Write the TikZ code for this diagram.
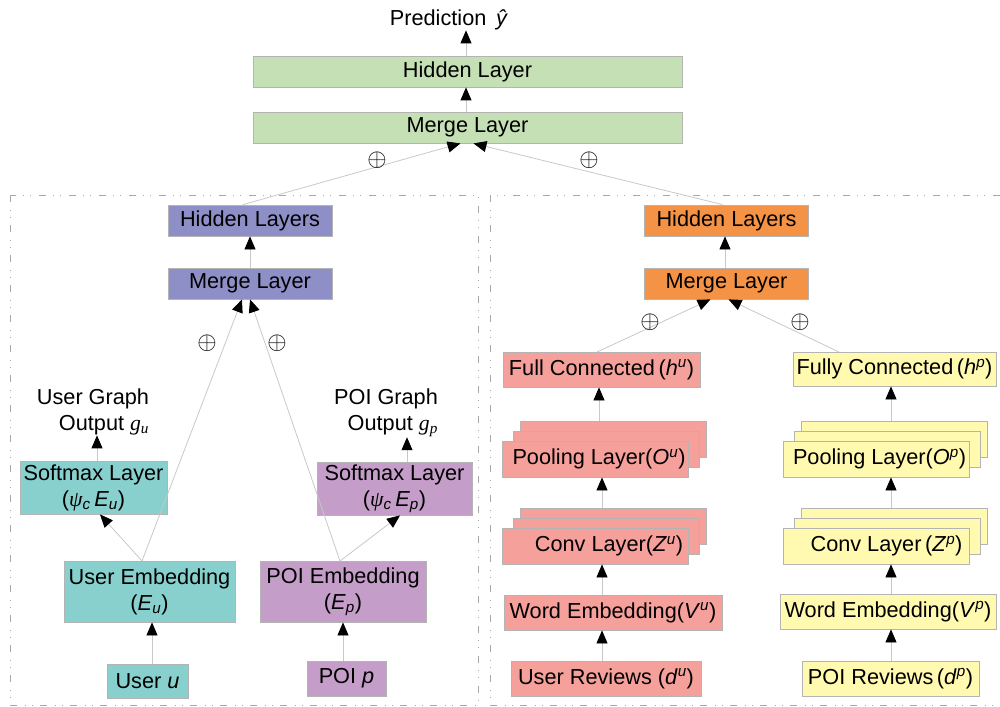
\documentclass[tikz,border=0pt]{standalone}
\usepackage{fontspec}
\setmainfont{Liberation Sans}
\newfontfamily\seriff{Liberation Serif}
\usetikzlibrary{arrows.meta}
\definecolor{cgreen}{HTML}{C5E0B4}
\definecolor{cblue}{HTML}{8E8FC6}
\definecolor{cteal}{HTML}{87D0CD}
\definecolor{cpink}{HTML}{C49DC8}
\definecolor{corange}{HTML}{F49346}
\definecolor{csalmon}{HTML}{F5A09B}
\definecolor{cyellow}{HTML}{FFFAB0}
\definecolor{bordergray}{HTML}{B4B4B4}
\definecolor{linegray}{HTML}{C8C8C8}
\definecolor{panelgray}{HTML}{A8A8A8}
\newcommand\sups[1]{\textsuperscript{\itshape #1}}
\newcommand\subs[1]{\textsubscript{\itshape #1}}
\newcommand\psic{{\seriff\itshape ψ}\subs{c}}
\begin{document}
\begin{tikzpicture}[x=1pt,y=-1pt,
  font=\fontsize{21.7}{26}\selectfont,
  box/.style={draw=bordergray, line width=0.8pt, inner sep=0pt, align=center},
  wide/.style={minimum width=429pt, minimum height=31pt},
  mid/.style={minimum width=164pt, minimum height=31pt},
  layer/.style={minimum width=186pt, minimum height=36pt},
  arr/.style={draw=linegray, line width=0.8pt, -{Triangle[length=13pt,width=11pt,color=black]}},
  panel/.style={draw=panelgray, line width=1pt, dash pattern=on 7pt off 8pt on 1pt off 6pt on 1pt off 7pt},
  lbl/.style={inner sep=0pt, align=right},
  oplus/.style={inner sep=0pt, font=\fontsize{27}{30}\selectfont}]
\useasboundingbox (0,0) rectangle (1000,706);

% panels
\draw[panel] (10,195) rectangle (478,705);
\draw[panel] (1000,195) -- (490,195) -- (490,705) -- (1000,705);

% top
\node[inner sep=0pt] (pred) at (449,20) {Prediction\hspace{0.45em}\textit{ŷ}};
\node[box, fill=cgreen, wide] (gHid) at (467.5,71.5) {Hidden Layer};
\node[box, fill=cgreen, wide] (gMer) at (467.5,127.5) {Merge Layer};
\coordinate (gx) at (466,0);
\draw[arr] (gHid.north -| gx) -- (pred.south -| gx);
\draw[arr] (gMer.north -| gx) -- (gHid.south -| gx);

% left panel
\node[box, fill=cblue, mid] (lHid) at (250,220.5) {Hidden Layers};
\node[box, fill=cblue, mid] (lMer) at (250,283.5) {Merge Layer};
\draw[arr] (lMer.north) -- (lHid.south);

\node[box, fill=cteal, minimum width=147pt, minimum height=53pt] (uSoft) at (93.5,487.5) {Softmax Layer\\(\psic\,\textit{E}\subs{u})};
\node[box, fill=cteal, minimum width=171pt, minimum height=61pt] (uEmb) at (149.5,591.5) {User Embedding\\(\textit{E}\subs{u})};
\node[box, fill=cteal, minimum width=81pt, minimum height=34pt] (uIn) at (147.5,681) {User \textit{u}};
\node[lbl] (uOut) at (93,412) {User Graph\\Output {\seriff\itshape g\textsubscript{u}}};

\node[box, fill=cpink, minimum width=155pt, minimum height=53pt] (pSoft) at (394.5,488.5) {Softmax Layer\\(\psic\,\textit{E}\subs{p})};
\node[box, fill=cpink, minimum width=166pt, minimum height=61pt] (pEmb) at (343,591.5) {POI Embedding\\(\textit{E}\subs{p})};
\node[box, fill=cpink, minimum width=79pt, minimum height=35pt] (pIn) at (346.5,678.5) {POI \textit{p}};
\node[lbl] (pOut) at (386,413) {POI Graph\\Output {\seriff\itshape g\textsubscript{p}}};

\coordinate (ux) at (152,0);
\coordinate (px) at (343,0);
\coordinate (usx) at (97,0);
\coordinate (psx) at (407,0);
\coordinate (ueTop) at (142,561);
\coordinate (peTop) at (340,561);
\draw[arr] (uIn.north -| ux) -- (uEmb.south -| ux);
\draw[arr] (pIn.north -| px) -- (pEmb.south -| px);
\draw[arr] (ueTop) -- (uSoft.south -| 100,0);
\draw[arr] (peTop) -- (pSoft.south -| 400,0);
\draw[arr] (uSoft.north -| usx) -- (usx |- uOut.south);
\draw[arr] (pSoft.north -| psx) -- (psx |- pOut.south);
\draw[arr] (ueTop) -- ([xshift=-8pt]lMer.south);
\draw[arr] (peTop) -- ([xshift=0pt]lMer.south);
\node[oplus] (op1) at (207,343) {$\oplus$};
\node[oplus] (op2) at (277,343) {$\oplus$};

% right panel
\node[box, fill=corange, mid] (rHid) at (726.5,220.5) {Hidden Layers};
\node[box, fill=corange, mid] (rMer) at (726.5,283.5) {Merge Layer};
\draw[arr] (rMer.north -| 725,0) -- (rHid.south -| 725,0);

\node[box, fill=csalmon, minimum width=197pt, minimum height=35pt] (uFC) at (601.5,369.5) {Full Connected\,(\textit{h}\sups{u})};
\node[box, fill=csalmon, layer] (uPool3) at (613,439) {};
\node[box, fill=csalmon, layer] (uPool2) at (606,449) {};
\node[box, fill=csalmon, layer] (uPool) at (595,459) {\hspace*{8pt}Pooling Layer(\textit{O}\sups{u})};
\node[box, fill=csalmon, layer] (uConv3) at (613,526) {};
\node[box, fill=csalmon, layer] (uConv2) at (606,536) {};
\node[box, fill=csalmon, layer] (uConv) at (595,546) {\hspace*{28pt}Conv Layer(\textit{Z}\sups{u})};
\node[box, fill=csalmon, minimum width=218pt, minimum height=35pt] (uWord) at (613,612.5) {Word Embedding(\textit{V}\sups{u})};
\node[box, fill=csalmon, minimum width=190pt, minimum height=35pt] (uRev) at (606,678.5) {User Reviews (\textit{d}\sups{u})};

\node[box, fill=cyellow, minimum width=203pt, minimum height=34pt] (pFC) at (894.5,369) {Fully Connected\,(\textit{h}\sups{p})};
\node[box, fill=cyellow, layer] (pPool3) at (894.5,439) {};
\node[box, fill=cyellow, layer] (pPool2) at (887.5,449) {};
\node[box, fill=cyellow, layer] (pPool) at (876.5,459) {\hspace*{6pt}Pooling Layer(\textit{O}\sups{p})};
\node[box, fill=cyellow, layer] (pConv3) at (894.5,526) {};
\node[box, fill=cyellow, layer] (pConv2) at (887.5,536) {};
\node[box, fill=cyellow, layer] (pConv) at (876.5,546) {\hspace*{20pt}Conv Layer\,(\textit{Z}\sups{p})};
\node[box, fill=cyellow, minimum width=216pt, minimum height=35pt] (pWord) at (888,611.5) {Word Embedding(\textit{V}\sups{p})};
\node[box, fill=cyellow, minimum width=177pt, minimum height=35pt] (pRev) at (890.5,678.5) {POI Reviews\,(\textit{d}\sups{p})};

\coordinate (rux) at (602,0);
\coordinate (rpx) at (891,0);
\draw[arr] (uRev.north -| rux) -- (uWord.south -| rux);
\draw[arr] (uWord.north -| rux) -- (uConv.south -| rux);
\draw[arr] (uConv3.north -| rux) -- (uPool.south -| rux);
\draw[arr] (uPool3.north -| 599,0) -- (uFC.south -| 599,0);
\draw[arr] (pRev.north -| rpx) -- (pWord.south -| rpx);
\draw[arr] (pWord.north -| rpx) -- (pConv.south -| rpx);
\draw[arr] (pConv3.north -| rpx) -- (pPool.south -| rpx);
\draw[arr] (pPool3.north -| rpx) -- (pFC.south -| rpx);

\coordinate (ufcTop) at (597,352);
\coordinate (pfcTop) at (839,352);
\draw[arr] (ufcTop) -- ([xshift=-16pt]rMer.south);
\draw[arr] (pfcTop) -- ([xshift=2pt]rMer.south);
\node[oplus] (op3) at (650,322) {$\oplus$};
\node[oplus] (op4) at (800,322) {$\oplus$};

% links to top merge
\draw[arr] ([xshift=-7pt]lHid.north) -- ([xshift=-7pt]gMer.south);
\draw[arr] ([xshift=-4pt]rHid.north) -- ([xshift=6pt]gMer.south);
\node[oplus] (op5) at (377,160) {$\oplus$};
\node[oplus] (op6) at (589,160) {$\oplus$};
\end{tikzpicture}
\end{document}
